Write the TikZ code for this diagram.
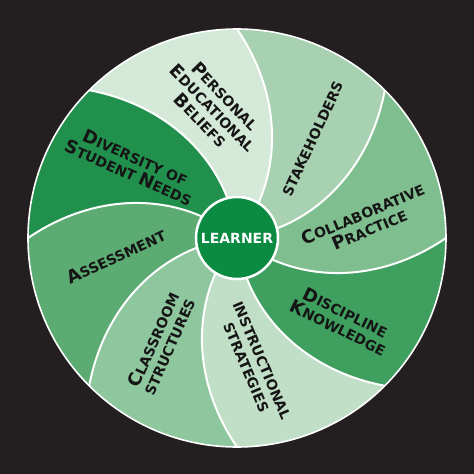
\documentclass[tikz,border=0pt]{standalone}
\usepackage{fontspec}
\setmainfont{DejaVu Sans}
\definecolor{bgcol}{HTML}{231F20}
\definecolor{cpersonal}{HTML}{D5E9D9}
\definecolor{cstake}{HTML}{A7D1B0}
\definecolor{ccollab}{HTML}{7FBE8E}
\definecolor{cdisc}{HTML}{3F9F5F}
\definecolor{cinstr}{HTML}{C1DFC7}
\definecolor{cclass}{HTML}{8EC69D}
\definecolor{cassess}{HTML}{5BAB73}
\definecolor{cdiv}{HTML}{22904D}
\definecolor{clearner}{HTML}{0B8A41}
\definecolor{labeltext}{HTML}{151515}
\newcommand\wheelseg[2]{%
  \fill[#2] plot[domain=42:209,samples=40,variable=\r] ({#1+(\r-209)*0.1875}:{\r pt})
    arc[start angle=#1, end angle=#1+45, radius=209pt]
    -- plot[domain=209:42,samples=40,variable=\r] ({#1+45+(\r-209)*0.1875}:{\r pt}) -- cycle;}
\newcommand\Ini[1]{{\fontsize{18}{17}\selectfont #1}}
\begin{document}
\begin{tikzpicture}[x=1pt,y=1pt,
  lbl/.style={text=labeltext, align=center, font=\fontsize{14}{17}\selectfont\bfseries, inner sep=0pt},
  divider/.style={draw=white, line width=2pt},
  rim/.style={draw=white, line width=1.6pt},
  hub/.style={circle, fill=clearner, draw=white, line width=2.5pt, minimum size=82pt, inner sep=0pt, text=white, font=\fontsize{14}{14}\selectfont\bfseries}
]
\fill[bgcol] (-237,-236) rectangle (237,238);
\useasboundingbox (-237,-236) rectangle (237,238);

\wheelseg{90}{cpersonal}
\wheelseg{45}{cstake}
\wheelseg{0}{ccollab}
\wheelseg{-45}{cdisc}
\wheelseg{-90}{cinstr}
\wheelseg{-135}{cclass}
\wheelseg{-180}{cassess}
\wheelseg{135}{cdiv}

\foreach \a in {90,45,0,-45,-90,-135,-180,-225}
  \draw[divider] plot[domain=42:209,samples=40,variable=\r] ({\a+(\r-209)*0.1875}:{\r pt});
\draw[rim] (0,0) circle[radius=209pt];

\node[hub] (learner) at (0,0) {LEARNER};

\node[lbl, rotate=-46] (personal) at (-24,130) {\Ini{P}ERSONAL\\\Ini{E}DUCATIONAL\\\Ini{B}ELIEFS};
\node[lbl, rotate=65] (stakeholders) at (76,99) {STAKEHOLDERS};
\node[lbl, rotate=23] (collab) at (129,17) {\Ini{C}OLLABORATIVE\\\Ini{P}RACTICE};
\node[lbl, rotate=-26] (discipline) at (105,-82) {\Ini{D}ISCIPLINE\\\Ini{K}NOWLEDGE};
\node[lbl, rotate=-67] (instructional) at (17,-126) {INSTRUCTIONAL\\STRATEGIES};
\node[lbl, rotate=66] (classroom) at (-76,-105) {\Ini{C}LASSROOM\\STRUCTURES};
\node[lbl, rotate=25] (assessment) at (-121,-18) {\Ini{A}SSESSMENT};
\node[lbl, rotate=-24] (diversity) at (-105,73) {\Ini{D}IVERSITY OF\\\Ini{S}TUDENT \Ini{N}EEDS};
\end{tikzpicture}
\end{document}
